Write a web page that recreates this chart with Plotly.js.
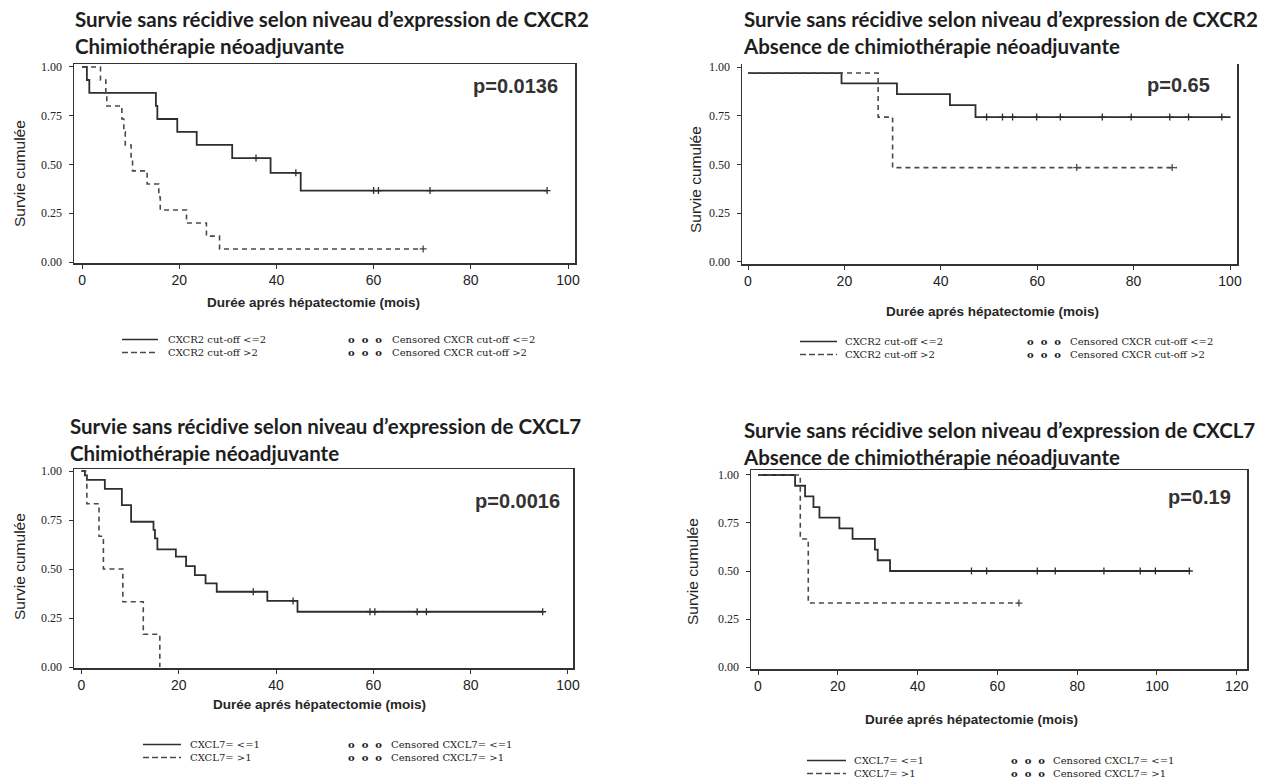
<!DOCTYPE html>
<html><head><meta charset="utf-8">
<script src="https://cdn.plot.ly/plotly-3.0.1.min.js"></script>
<style>html,body{margin:0;padding:0;background:#fff;} #chart{width:1269px;height:783px;}</style>
</head><body><div id="chart"></div>
<script>
// ---------------- DATA ----------------
const xTickVals = [0, 20, 40, 60, 80, 100];
const xTickVals4 = [0, 20, 40, 60, 80, 100, 120];
const yTickVals = [0, 0.25, 0.5, 0.75, 1];
const yTickText = ['0.00', '0.25', '0.50', '0.75', '1.00'];

const titleLine1 = [
  'Survie sans récidive selon niveau d’expression de CXCR2',
  'Survie sans récidive selon niveau d’expression de CXCR2',
  'Survie sans récidive selon niveau d’expression de CXCL7',
  'Survie sans récidive selon niveau d’expression de CXCL7'
];
const titleLine2 = [
  'Chimiothérapie néoadjuvante',
  'Absence de chimiothérapie néoadjuvante',
  'Chimiothérapie néoadjuvante',
  'Absence de chimiothérapie néoadjuvante'
];
const pValues = ['p=0.0136', 'p=0.65', 'p=0.0016', 'p=0.19'];
const xTitle = 'Durée aprés hépatectomie (mois)';
const yTitle = 'Survie cumulée';

const legendLow = ['CXCR2 cut-off &lt;=2', 'CXCR2 cut-off &lt;=2', 'CXCL7= &lt;=1', 'CXCL7= &lt;=1'];
const legendHigh = ['CXCR2 cut-off &gt;2', 'CXCR2 cut-off &gt;2', 'CXCL7= &gt;1', 'CXCL7= &gt;1'];
const legendCensLow = ['Censored CXCR cut-off &lt;=2', 'Censored CXCR cut-off &lt;=2', 'Censored CXCL7= &lt;=1', 'Censored CXCL7= &lt;=1'];
const legendCensHigh = ['Censored CXCR cut-off &gt;2', 'Censored CXCR cut-off &gt;2', 'Censored CXCL7= &gt;1', 'Censored CXCL7= &gt;1'];

// Panel 1 : CXCR2, chimiothérapie
const p1LowT = [0, 1.0, 1.5, 15.2, 15.5, 19.6, 23.6, 30.9, 38.8, 45.0, 95.7];
const p1LowS = [1, 0.933, 0.867, 0.80, 0.733, 0.667, 0.60, 0.533, 0.457, 0.366, 0.366];
const p1LowCens = [35.8, 44.0, 60.0, 61.0, 71.6, 95.7];
const p1HighT = [0, 3.8, 4.9, 5.1, 8.2, 8.6, 8.9, 10.1, 10.4, 13.4, 15.8, 16.1, 21.5, 25.6, 28.3, 70.2];
const p1HighS = [1, 0.933, 0.867, 0.80, 0.733, 0.667, 0.60, 0.533, 0.467, 0.40, 0.333, 0.267, 0.20, 0.133, 0.067, 0.067];
const p1HighCens = [70.2];

// Panel 2 : CXCR2, absence de chimiothérapie
const p2LowT = [0, 19.4, 30.9, 41.9, 47.2, 100.1];
const p2LowS = [0.969, 0.916, 0.861, 0.805, 0.743, 0.743];
const p2LowCens = [49.5, 52.8, 54.9, 59.9, 64.8, 73.5, 79.5, 87.5, 91.4, 98.3];
const p2HighT = [0, 27.0, 30.0, 89.0];
const p2HighS = [0.969, 0.743, 0.484, 0.484];
const p2HighCens = [68.2, 88.0];

// Panel 3 : CXCL7, chimiothérapie
const p3LowT = [0, 0.7, 1.1, 4.8, 8.3, 10.2, 14.8, 15.1, 15.6, 19.4, 21.5, 23.3, 25.5, 27.8, 38.2, 44.4, 94.8];
const p3LowS = [1, 0.978, 0.955, 0.909, 0.826, 0.741, 0.70, 0.656, 0.60, 0.563, 0.515, 0.469, 0.427, 0.384, 0.337, 0.282, 0.282];
const p3LowCens = [35.3, 43.5, 59.3, 60.3, 69.0, 70.9, 94.8];
const p3HighT = [0, 1.1, 3.6, 4.5, 8.5, 12.7, 16.1];
const p3HighS = [1, 0.833, 0.667, 0.50, 0.333, 0.167, 0];
const p3HighCens = [];

// Panel 4 : CXCL7, absence de chimiothérapie
const p4LowT = [0, 9.3, 11.8, 13.9, 15.4, 20.4, 23.7, 29.3, 30.0, 33.1, 108.1];
const p4LowS = [1, 0.944, 0.889, 0.833, 0.778, 0.722, 0.667, 0.611, 0.556, 0.50, 0.50];
const p4LowCens = [53.5, 57.3, 70.0, 74.5, 86.7, 95.8, 99.6, 108.1];
const p4HighT = [0, 10.6, 12.6, 65.4];
const p4HighS = [1, 0.667, 0.333, 0.333];
const p4HighCens = [65.4];

// ---------------- BUILD ----------------
const W = 1269, H = 783;
const px = v => v / W;
const py = v => 1 - v / H;

function survAt(t, s, x) {
  let v = s[0];
  for (let i = 0; i < t.length; i++) if (t[i] <= x) v = s[i];
  return v;
}

const solidColor = '#2e2e2e';
const dashColor = '#4a4a4a';

const panels = [
  {lowT: p1LowT, lowS: p1LowS, lowC: p1LowCens, highT: p1HighT, highS: p1HighS, highC: p1HighCens,
   box: [74, 575, 64, 263], xr: [-1.65, 101.44], yr: [-0.005, 1.015], top: true, xt: xTickVals,
   title: [73, 32.5], p: [560, 86], xtitle: [313, 303], ytitle: [19, 174],
   leg: {c: 346, l0: 122, l1: 158, tx: 166, rings: 346, ctx: 390}},
  {lowT: p2LowT, lowS: p2LowS, lowC: p2LowCens, highT: p2HighT, highS: p2HighS, highC: p2HighCens,
   box: [742, 1237, 64, 264], xr: [-1.245, 101.45], yr: [-0.0103, 1.0154], top: false, xt: xTickVals,
   title: [741, 32.5], p: [1212, 85], xtitle: [992, 311], ytitle: [696, 180],
   leg: {c: 348, l0: 800, l1: 837, tx: 843, rings: 1025, ctx: 1068}},
  {lowT: p3LowT, lowS: p3LowS, lowC: p3LowCens, highT: p3HighT, highS: p3HighS, highC: p3HighCens,
   box: [74, 573, 469, 668], xr: [-1.54, 101.03], yr: [-0.0051, 1.0102], top: true, xt: xTickVals,
   title: [68, 439.5], p: [562, 501], xtitle: [320, 704], ytitle: [19, 567],
   leg: {c: 751, l0: 143, l1: 181, tx: 188, rings: 346, ctx: 389}},
  {lowT: p4LowT, lowS: p4LowS, lowC: p4LowCens, highT: p4HighT, highS: p4HighS, highC: p4HighCens,
   box: [751, 1247, 470, 669], xr: [-1.754, 122.56], yr: [-0.0104, 1.026], top: true, xt: xTickVals4,
   title: [741, 443.5], p: [1233, 497], xtitle: [971, 719], ytitle: [692, 572],
   leg: {c: 767, l0: 807, l1: 846, tx: 852, rings: 1009, ctx: 1051}}
];

const traces = [];
const layout = {
  width: W, height: H, margin: {l: 0, r: 0, t: 0, b: 0},
  paper_bgcolor: '#ffffff', plot_bgcolor: '#ffffff',
  showlegend: false, annotations: [], shapes: []
};

const titleFont = {family: 'Lato, "Open Sans", sans-serif', size: 20.5, color: '#1e1e1e', weight: 'bold'};
const pFont = {family: '"Liberation Sans", Arial, sans-serif', size: 20, color: '#333', weight: 'bold'};
const xTitleFont = {family: '"Liberation Sans", Arial, sans-serif', size: 13.5, color: '#262626', weight: 'bold'};
const yTitleFont = {family: '"Liberation Sans", Arial, sans-serif', size: 15.5, color: '#222'};
const legFont = {family: '"DejaVu Serif", "Liberation Serif", serif', size: 10, color: '#222'};
const LEG_HALF = 6.5;

panels.forEach((pn, i) => {
  const n = i === 0 ? '' : String(i + 1);
  const xa = 'x' + n, ya = 'y' + n;
  traces.push({x: pn.lowT, y: pn.lowS, xaxis: xa, yaxis: ya, mode: 'lines', type: 'scatter',
    line: {shape: 'hv', color: solidColor, width: 1.8}, hoverinfo: 'skip'});
  traces.push({x: pn.highT, y: pn.highS, xaxis: xa, yaxis: ya, mode: 'lines', type: 'scatter',
    line: {shape: 'hv', color: dashColor, width: 1.6, dash: '5px,4px'}, hoverinfo: 'skip'});
  traces.push({x: pn.lowC, y: pn.lowC.map(c => survAt(pn.lowT, pn.lowS, c)), xaxis: xa, yaxis: ya,
    mode: 'markers', type: 'scatter', hoverinfo: 'skip',
    marker: {symbol: 'cross-thin-open', size: 5, color: solidColor, line: {width: 1.3, color: solidColor}}});
  if (pn.highC.length) traces.push({x: pn.highC, y: pn.highC.map(c => survAt(pn.highT, pn.highS, c)), xaxis: xa, yaxis: ya,
    mode: 'markers', type: 'scatter', hoverinfo: 'skip',
    marker: {symbol: 'cross-thin-open', size: 5, color: dashColor, line: {width: 1.3, color: dashColor}}});

  const [L, R, T, B] = pn.box;
  layout['xaxis' + n] = {
    domain: [px(L), px(R)], range: pn.xr, anchor: ya,
    showgrid: false, zeroline: false, showline: true, linecolor: '#333', linewidth: 1.5,
    mirror: pn.top, ticks: 'outside', ticklen: 4, tickwidth: 1, tickcolor: '#333',
    tickvals: pn.xt, tickfont: {family: '"Liberation Sans", Arial, sans-serif', size: 14, color: '#222'},
    fixedrange: true
  };
  layout['yaxis' + n] = {
    domain: [py(B), py(T)], range: pn.yr, anchor: xa,
    showgrid: false, zeroline: false, showline: true, linecolor: '#333', linewidth: 1.5,
    mirror: true, ticks: 'outside', ticklen: 4, tickwidth: 1, tickcolor: '#333',
    tickvals: yTickVals, ticktext: yTickText, ticklabelstandoff: 4,
    tickfont: {family: '"Liberation Serif", "Times New Roman", serif', size: 12, color: '#222'},
    fixedrange: true
  };

  const A = layout.annotations;
  const ann = (x, y, text, font, extra) => A.push(Object.assign({xref: 'paper', yref: 'paper', x: px(x), y: py(y),
    xanchor: 'left', yanchor: 'middle', text: text, showarrow: false, font: font}, extra || {}));

  ann(pn.title[0], pn.title[1], titleLine1[i] + '<br>' + titleLine2[i], titleFont, {align: 'left'});
  ann(pn.p[0], pn.p[1], pValues[i], pFont, {xanchor: 'right'});
  ann(pn.xtitle[0], pn.xtitle[1], xTitle, xTitleFont, {xanchor: 'center'});
  ann(pn.ytitle[0], pn.ytitle[1], yTitle, yTitleFont, {xanchor: 'center', textangle: -90});

  const lg = pn.leg;
  const rings = 'o&nbsp;&nbsp;o&nbsp;&nbsp;o';
  ann(lg.tx, lg.c, legendLow[i] + '<br>' + legendHigh[i], legFont, {align: 'left'});
  ann(lg.rings, lg.c, rings + '<br>' + rings, Object.assign({}, legFont, {weight: 'bold'}), {align: 'left'});
  ann(lg.ctx, lg.c, legendCensLow[i] + '<br>' + legendCensHigh[i], legFont, {align: 'left'});

  layout.shapes.push({type: 'line', xref: 'paper', yref: 'paper', x0: px(lg.l0), x1: px(lg.l1),
    y0: py(lg.c - LEG_HALF), y1: py(lg.c - LEG_HALF), line: {color: solidColor, width: 1.6}});
  layout.shapes.push({type: 'line', xref: 'paper', yref: 'paper', x0: px(lg.l0), x1: px(lg.l1),
    y0: py(lg.c + LEG_HALF), y1: py(lg.c + LEG_HALF), line: {color: dashColor, width: 1.4, dash: '6px,3px'}});
});

Plotly.newPlot('chart', traces, layout, {staticPlot: true, displayModeBar: false});
</script>
</body></html>
